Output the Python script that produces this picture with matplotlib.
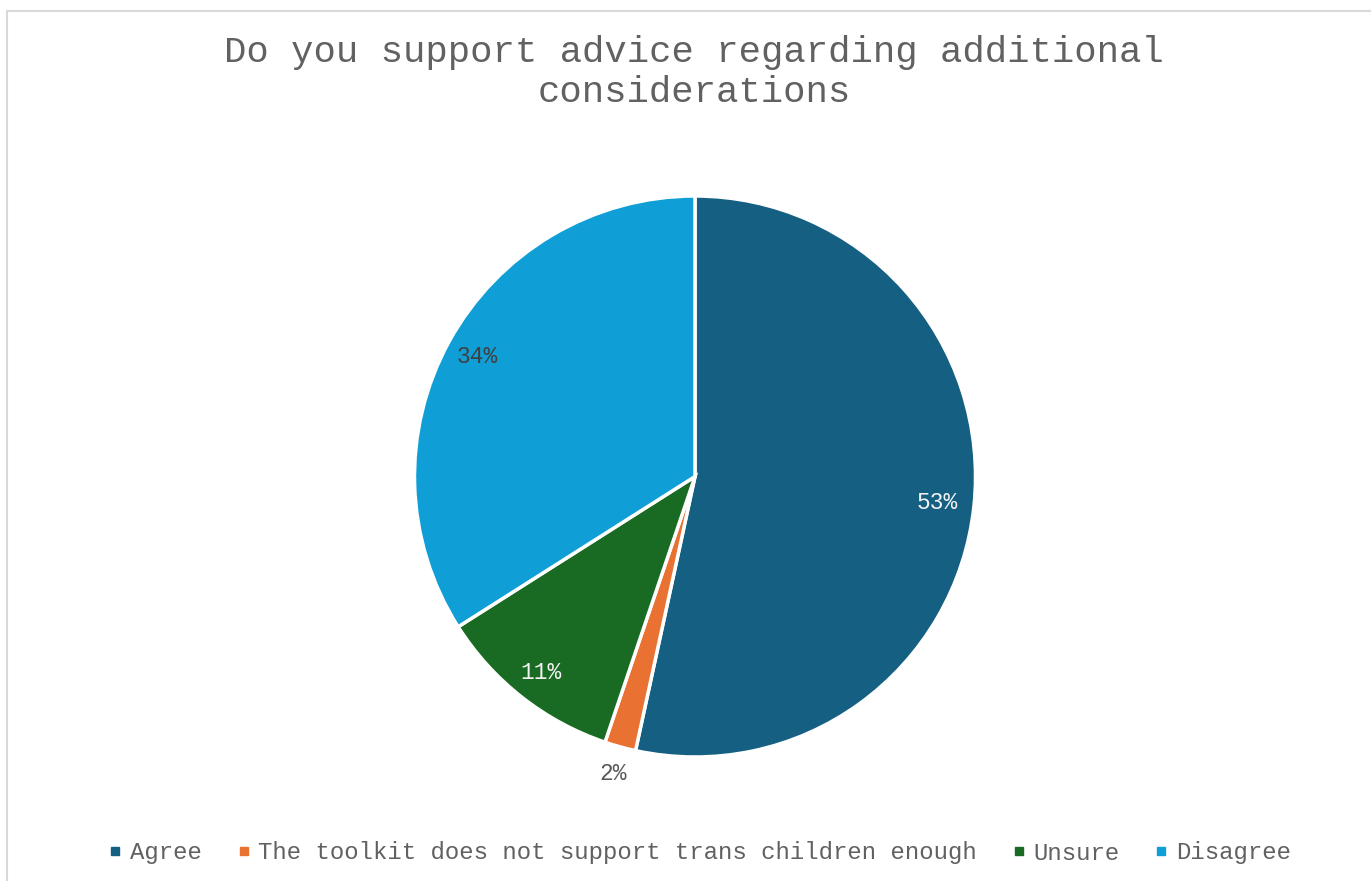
import numpy as np
import matplotlib.pyplot as plt
from matplotlib.lines import Line2D
from matplotlib.patches import Rectangle

# data (percent of respondents)
labels = ['Agree', 'The toolkit does not support trans children enough', 'Unsure', 'Disagree']
values = [53.4, 1.8, 10.8, 34.0]
colors = ['#156082', '#E97132', '#196B24', '#0F9ED5']
label_colors = ['#F2F2F2', '#595959', '#F2F2F2', '#404040']
label_dist = [0.87, 1.10, 0.89, 0.885]

font = ['Liberation Mono', 'DejaVu Sans Mono']
plt.rcParams['font.family'] = font

W, H = 1371, 881
fig = plt.figure(figsize=(W / 100, H / 100), dpi=100)

# chart border
fig.patches.append(Rectangle((7 / W, -0.1), 1.2, 1 - 11 / H + 0.1, transform=fig.transFigure,
                             fill=False, edgecolor='#D9D9D9', linewidth=1.5))

cx, cy, r = 695, 476.5, 280.5
ax = fig.add_axes([(cx - r) / W, (H - cy - r) / H, 2 * r / W, 2 * r / H])
wedges, _ = ax.pie(values, colors=colors, startangle=90, counterclock=False, radius=1,
                   wedgeprops=dict(edgecolor='white', linewidth=2.5))
ax.set_xlim(-1, 1)
ax.set_ylim(-1, 1)
ax.set_aspect('equal')
ax.axis('off')

total = sum(values)
for w, v, col, d in zip(wedges, values, label_colors, label_dist):
    ang = np.deg2rad((w.theta1 + w.theta2) / 2)
    ax.text(d * np.cos(ang), d * np.sin(ang), '{:.0f}%'.format(100 * v / total),
            ha='center', va='center', fontsize=16.5, color=col, family=font)

fig.text(694 / W, 1 - 52 / H, 'Do you support advice regarding additional',
         ha='center', va='center', fontsize=26.8, color='#616161', family=font)
fig.text(694 / W, 1 - 93 / H, 'considerations',
         ha='center', va='center', fontsize=26.8, color='#616161', family=font)

handles = [Line2D([], [], marker='s', linestyle='none', markersize=6, color=c) for c in colors]
leg = fig.legend(handles, labels, loc='center', bbox_to_anchor=(700 / W, 1 - 853 / H), ncol=4,
                 frameon=False, prop={'family': font, 'size': 17.3}, handlelength=0.5,
                 handletextpad=0.35, columnspacing=1.5, labelcolor='#616161')

fig.savefig('out.png', dpi=100)
